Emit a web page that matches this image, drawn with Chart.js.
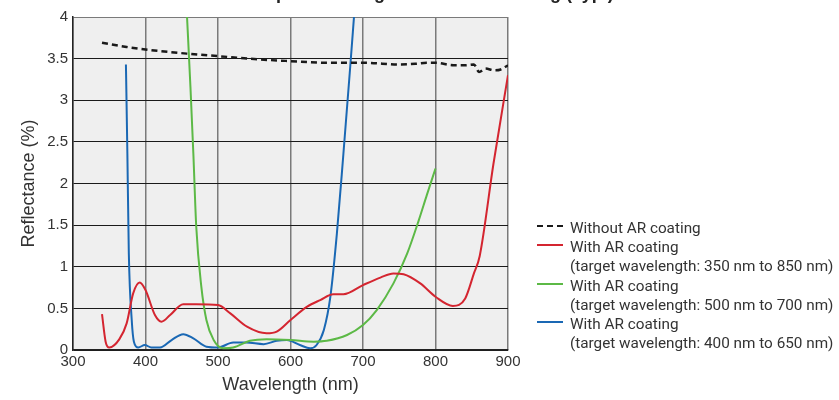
<!DOCTYPE html>
<html lang="en">
<head>
<meta charset="UTF-8">
<title>Reflectance with AR coating</title>
<script src="https://cdn.jsdelivr.net/npm/chart.js"></script>
<style>
    html, body { margin: 0; padding: 0; background: #fff; }
    #wrap { position: relative; width: 839px; height: 400px; overflow: hidden; }
    #legend { position: absolute; left: 537px; top: 219px; font-family: Roboto, sans-serif; font-size: 15.3px; color: #333; line-height: 19.2px; white-space: nowrap; }
    .item { display: flex; align-items: flex-start; }
    .swatch { width: 26px; height: 10px; margin-right: 7px; flex: none; position: relative; }
    .swatch span { position: absolute; left: 0; right: 0; top: 6px; border-top: 2.5px solid; }
</style>
</head>
<body>
<div id="wrap">
    <canvas id="chart" width="839" height="400"></canvas>
    <div id="legend"></div>
</div>
<script>
// Chart data
const titleText = 'Reflectance spectrum of glass with AR coating (Typ.)';
const xTitle = 'Wavelength (nm)';
const yTitle = 'Reflectance (%)';

const seriesNames = ['Without AR coating', 'With AR coating', 'With AR coating', 'With AR coating'];
const seriesNotes = ['', '(target wavelength: 350 nm to 850 nm)', '(target wavelength: 500 nm to 700 nm)', '(target wavelength: 400 nm to 650 nm)'];
const seriesColors = ['#1a1a1a', '#d42530', '#5cb946', '#1a68b4'];

const noArWl = [340, 374, 400, 457, 500, 558, 600, 650, 700, 752, 775, 788, 800, 825, 841, 853, 860, 869, 881, 890, 900];
const noArR  = [3.69, 3.64, 3.61, 3.56, 3.53, 3.49, 3.47, 3.45, 3.45, 3.43, 3.44, 3.45, 3.45, 3.42, 3.42, 3.43, 3.34, 3.38, 3.36, 3.37, 3.42];

const ar350Wl = [340, 345, 350, 364, 374, 383, 392, 400, 413, 422, 434, 452, 470, 500, 517, 540, 567, 581, 600, 623, 641, 659, 673, 700, 724, 742, 756, 779, 800, 824, 841, 853, 861, 880, 900];
const ar350R  = [0.43, 0.10, 0.03, 0.13, 0.32, 0.68, 0.81, 0.72, 0.42, 0.34, 0.42, 0.55, 0.55, 0.54, 0.44, 0.28, 0.20, 0.22, 0.36, 0.52, 0.60, 0.67, 0.67, 0.78, 0.87, 0.92, 0.91, 0.80, 0.64, 0.53, 0.62, 0.92, 1.13, 2.24, 3.30];

const ar500Wl = [457, 462, 466, 470, 477, 484, 494, 507, 521, 544, 567, 600, 632, 650, 678, 700, 719, 742, 761, 777, 788, 800];
const ar500R  = [4.05, 3.16, 2.36, 1.48, 0.76, 0.36, 0.12, 0.02, 0.03, 0.11, 0.13, 0.12, 0.10, 0.11, 0.18, 0.30, 0.48, 0.80, 1.16, 1.56, 1.86, 2.18];

const ar400Wl = [373, 375, 377, 381, 384, 390, 399, 408, 420, 436, 452, 466, 484, 500, 521, 539, 563, 581, 595, 613, 627, 636, 646, 655, 664, 673, 682, 688];
const ar400R  = [3.43, 2.36, 1.16, 0.36, 0.10, 0.03, 0.06, 0.03, 0.03, 0.12, 0.19, 0.14, 0.04, 0.03, 0.09, 0.09, 0.07, 0.11, 0.12, 0.06, 0.02, 0.06, 0.24, 0.64, 1.40, 2.36, 3.36, 4.05];

const seriesWl = [noArWl, ar350Wl, ar500Wl, ar400Wl];
const seriesR = [noArR, ar350R, ar500R, ar400R];

function toPoints(wl, r) {
    return wl.map((w, i) => ({ x: w, y: r[i] }));
}

const datasets = seriesNames.map((name, i) => ({
    label: name,
    data: toPoints(seriesWl[i], seriesR[i]),
    borderColor: seriesColors[i],
    borderWidth: i === 0 ? 2.5 : 2,
    borderDash: i === 0 ? [6, 4] : [],
    pointRadius: 0,
    fill: false,
    cubicInterpolationMode: 'monotone'
}));

const tickFont = { family: '"Liberation Sans", Arial, sans-serif', size: 15 };
const titleFont = { family: '"Liberation Sans", Arial, sans-serif', size: 18 };

// grey plot background + clipped title at the top
const bgPlugin = {
    id: 'bg',
    beforeDraw(chart) {
        const a = chart.chartArea, ctx = chart.ctx;
        ctx.save();
        ctx.fillStyle = '#efefef';
        ctx.fillRect(a.left, a.top, a.right - a.left, a.bottom - a.top);
        ctx.restore();
    },
    afterDraw(chart) {
        const ctx = chart.ctx;
        ctx.save();
        ctx.font = 'bold 18px "Liberation Sans", Arial, sans-serif';
        ctx.fillStyle = '#222';
        ctx.textAlign = 'left';
        ctx.textBaseline = 'alphabetic';
        ctx.fillText(titleText, 160, -1);
        ctx.restore();
    }
};

new Chart(document.getElementById('chart'), {
    type: 'line',
    data: { datasets: datasets },
    plugins: [bgPlugin],
    options: {
        responsive: false,
        animation: false,
        layout: { padding: { top: 17, right: 331, left: 14, bottom: 0 } },
        plugins: { legend: { display: false }, tooltip: { enabled: false } },
        scales: {
            x: {
                type: 'linear',
                min: 300, max: 900,
                ticks: { stepSize: 100, color: '#333', padding: 3, font: tickFont },
                grid: { color: '#7a7a7a', lineWidth: 1.5, drawTicks: false },
                border: { color: '#222', width: 1.5 },
                title: { display: true, text: xTitle, color: '#333', padding: { top: 10 }, font: titleFont },
                afterFit(scale) { scale.height = 50; }
            },
            y: {
                min: 0, max: 4,
                ticks: {
                    stepSize: 0.5, color: '#333', padding: 5, font: tickFont,
                    callback: v => String(v)
                },
                grid: {
                    color: ctx => ctx.tick && ctx.tick.value === 4 ? '#7a7a7a' : '#1a1a1a',
                    lineWidth: 1, drawTicks: false
                },
                border: { color: '#222', width: 1.5 },
                title: { display: true, text: yTitle, color: '#333', padding: { bottom: 4 }, font: titleFont },
                afterFit(scale) { scale.width = 59; }
            }
        }
    }
});

// HTML legend with two-line labels
const legend = document.getElementById('legend');
seriesNames.forEach((name, i) => {
    const row = document.createElement('div');
    row.className = 'item';
    const sw = document.createElement('div');
    sw.className = 'swatch';
    const ln = document.createElement('span');
    ln.style.borderTopColor = seriesColors[i];
    if (i === 0) ln.style.borderTopStyle = 'dashed';
    sw.appendChild(ln);
    const txt = document.createElement('div');
    txt.innerHTML = name + (seriesNotes[i] ? '<br>' + seriesNotes[i] : '');
    row.appendChild(sw);
    row.appendChild(txt);
    legend.appendChild(row);
});
</script>
</body>
</html>
